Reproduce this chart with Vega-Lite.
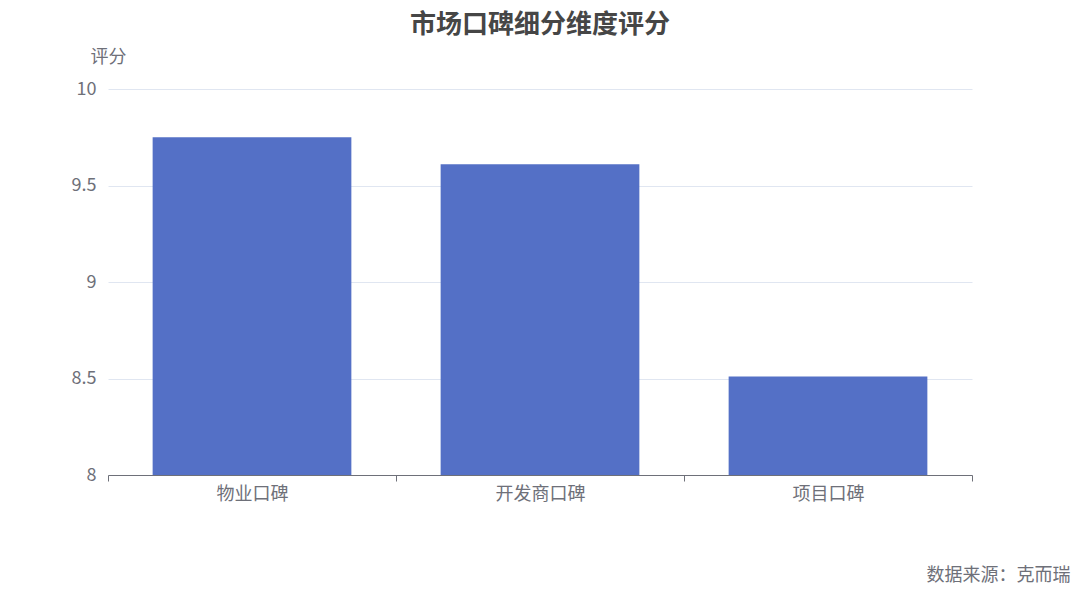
{
  "$schema": "https://vega.github.io/schema/vega-lite/v6.json",
  "autosize": "none",
  "padding": {"left": 108, "top": 89, "right": 108, "bottom": 118},
  "width": 864,
  "height": 386,
  "background": "white",
  "title": {
    "text": "市场口碑细分维度评分",
    "anchor": "middle",
    "frame": "group",
    "fontSize": 26,
    "fontWeight": "bold",
    "color": "#464646",
    "font": "Noto Sans CJK SC",
    "offset": 10
  },
  "data": {
    "values": [
      {"dimension": "物业口碑", "score": 9.75},
      {"dimension": "开发商口碑", "score": 9.61},
      {"dimension": "项目口碑", "score": 8.51}
    ]
  },
  "mark": {"type": "bar", "color": "#5470c6", "clip": true, "width": {"band": 0.69}},
  "encoding": {
    "x": {
      "field": "dimension",
      "type": "nominal",
      "sort": null,
      "scale": {"paddingInner": 0, "paddingOuter": 0},
      "axis": {
        "title": "数据来源：克而瑞",
        "titleAnchor": "end",
        "titleAlign": "right",
        "titleX": 962,
        "titleY": 100,
        "titleBaseline": "middle",
        "titleFontWeight": "normal",
        "titleFontSize": 18,
        "titleColor": "#6e7079",
        "labelAngle": 0,
        "labelPadding": 4,
        "tickBand": "extent",
        "tickSize": 6,
        "tickColor": "#6e7079",
        "domainColor": "#6e7079"
      }
    },
    "y": {
      "field": "score",
      "type": "quantitative",
      "scale": {"domain": [8, 10], "zero": false, "nice": false},
      "axis": {
        "title": "评分",
        "titleAngle": 0,
        "titleX": 0,
        "titleY": -32,
        "titleAlign": "center",
        "titleBaseline": "middle",
        "titleFontWeight": "normal",
        "titleFontSize": 18,
        "titleColor": "#6e7079",
        "values": [8, 8.5, 9, 9.5, 10],
        "format": "~g",
        "domain": false,
        "ticks": false,
        "labelPadding": 12,
        "gridColor": "#e0e6f1"
      }
    }
  },
  "config": {
    "view": {"stroke": null},
    "font": "Noto Sans CJK SC",
    "axis": {
      "labelFont": "Noto Sans CJK SC",
      "titleFont": "Noto Sans CJK SC",
      "labelFontSize": 18,
      "labelColor": "#6e7079"
    }
  }
}
